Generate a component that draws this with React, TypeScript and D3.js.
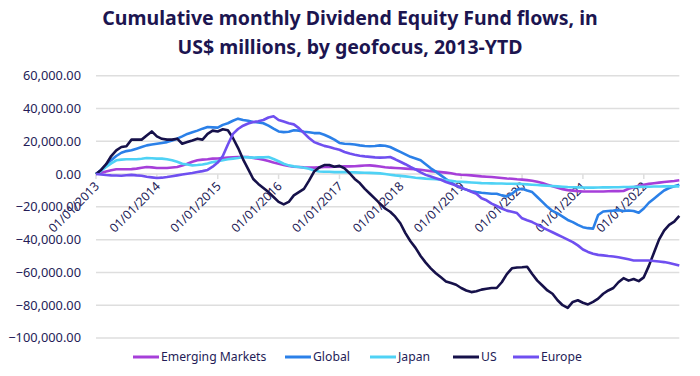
import React from "react";
import * as d3 from "d3";

const seriesNames = ["Emerging Markets", "Global", "Japan", "US", "Europe"];
const seriesColors = ["#a63fd9", "#2b80e8", "#4fd2f5", "#16114a", "#6f4ff0"];

const yearLabels = ["01/01/2013", "01/01/2014", "01/01/2015", "01/01/2016", "01/01/2017", "01/01/2018", "01/01/2019", "01/01/2020", "01/01/2021", "01/01/2022"];
const yTicks = [60000, 40000, 20000, 0, -20000, -40000, -60000, -80000, -100000];

// values in US$ thousands of millions (k), monthly Jan 2013 - Aug 2022
const emerging = [0,0.8,1.6,2.3,2.9,2.9,2.9,3,3.3,3.8,4.3,4.1,3.7,3.7,3.7,4,4.3,5.2,6.3,7.5,8.4,8.8,9,9.4,9.5,9.8,10,10.2,10.4,10.4,10.4,9.8,9.4,8.8,7.9,7,6.3,5.6,4.9,4.5,4.3,4.1,4,3.9,4.1,4.3,4.4,4.5,4.6,4.7,4.7,4.8,5,5.2,5.3,5,4.6,4.2,3.9,3.7,3.5,3.3,3.1,2.9,2.6,2.2,1.8,1.5,1.2,0.9,0.5,-0.1,-0.4,-0.6,-0.8,-1.1,-1.4,-1.6,-1.8,-2.1,-2.4,-2.7,-2.9,-3.2,-3.4,-3.7,-4.1,-4.7,-5.5,-6.5,-7.5,-8.3,-9.2,-9.8,-10.1,-10.4,-10.6,-10.6,-10.6,-10.6,-10.6,-10.5,-10.4,-10.4,-10.3,-9,-8,-7.2,-6.6,-6,-5.6,-5.2,-4.8,-4.5,-4.2,-3.8];
const global = [0,2.5,5.5,8.5,11,13,14,14.5,15.5,16.5,17.5,18,18.5,19,19.5,20.5,21.6,23,24.5,25.5,26.5,27.7,28.7,28.5,28.3,30,31,32.5,33.8,33,32.5,31.8,31.5,31,29.5,27.7,26,25.6,25.8,26.7,26.5,25.8,25.5,25,25,24,22.6,21,19,18.5,18.3,18,17.5,17.1,17,17.1,17.5,17.3,16.5,15,13.5,12,10.5,9.5,8.4,6,3.5,1.5,-0.8,-3,-5,-7,-8.5,-9.5,-10.5,-11,-11.4,-11.7,-12,-12,-13,-13.6,-12,-9.5,-8.9,-10,-11,-14,-17,-20,-22.5,-24,-26,-28,-29.3,-31,-32.4,-33,-33.3,-25,-22.8,-22.5,-22.3,-22,-22.5,-22.2,-22.5,-23.6,-21,-17.5,-15,-12.5,-10,-8.5,-7.5,-6.5];
const japan = [0,2,4.3,6.5,8.4,8.8,9,9,9,9.3,9.8,9.6,9.4,9.4,9,8.4,7.5,6.3,5.8,5.3,5.5,5.8,6.5,7.3,7.8,8.4,9,9.4,9.8,10.4,10.2,10,10.2,10.2,10.4,9.2,7.8,6.3,5.3,4.7,4.3,3.9,3.2,2.2,1.6,1.4,1.4,1.2,1.2,1.2,1.1,1,0.9,0.8,0.7,0.6,0.4,0,-0.4,-0.8,-1.1,-1.4,-1.8,-2.2,-2.5,-2.8,-3,-3.2,-3.5,-3.8,-4.1,-4.5,-4.7,-4.9,-5.1,-5.3,-5.5,-5.6,-5.7,-5.8,-5.8,-5.9,-5.9,-6,-6.1,-6.3,-6.5,-6.7,-6.9,-7.1,-7.3,-7.5,-7.7,-7.9,-8,-8.1,-8.2,-8.3,-8.3,-8.2,-8.1,-8.1,-8,-8,-7.9,-7.9,-7.8,-7.8,-7.7,-7.7,-7.6,-7.6,-7.5,-7.5,-7.5,-7.5];
const us = [0,2.5,6,11,14.5,16.5,17,21,21,21,23.5,26,23,21.5,21,21,21.6,18.5,19.5,20.5,21.6,21,24.5,26.5,26,27.3,26.7,22,16,9,3,-3,-6,-8.5,-11,-14,-17,-18.5,-17,-13,-11,-9,-4,1.5,4,5.5,5.5,4.5,5,3.5,0.5,-3,-5.5,-9,-12,-15,-18,-21,-23,-26,-30,-36,-41,-45,-50,-54,-57.5,-60.5,-63,-65.5,-66.5,-67.5,-69.5,-71,-72,-71.5,-70.5,-70,-69.5,-69.5,-66,-61,-57.5,-57,-56.8,-56.5,-61,-65,-68,-71,-73,-77,-80,-81.6,-78,-77,-78.5,-79.5,-78,-76,-73,-71,-69.5,-66,-63.5,-65,-64,-65.3,-63,-56,-48,-40,-34.5,-31,-29,-25.5];
const europe = [0,-0.3,-0.6,-0.8,-0.9,-1,-0.7,-0.5,-0.8,-1,-1.6,-2,-2.4,-2.2,-1.8,-1.3,-0.8,-0.3,0.2,0.6,1.2,1.8,2.5,4.5,7,11,18,24.5,27.5,29.5,30.8,31.8,32.2,33,34.5,35.3,33,32,31,30.3,28,25,22,19.5,18.3,17.2,16.5,15.6,14.8,13.5,12.5,11.8,11.2,10.8,10.5,10.2,10,10.1,10.4,9,7.5,6,4.3,2.8,1,-0.5,-1.5,-2.5,-3.5,-4.8,-5.9,-7,-8.3,-9.5,-10.8,-12,-14.8,-16,-18,-19.5,-21,-22.3,-23,-23.8,-27,-28.2,-29.3,-30.8,-32.5,-34,-35.5,-37,-38.5,-40,-41.5,-43.5,-46,-47.5,-48.6,-49.3,-49.6,-50,-50.3,-50.7,-51.3,-52,-52.7,-52.7,-52.7,-52.7,-53,-53.3,-53.7,-54.3,-55,-55.8];

const allSeries = [emerging, global, japan, us, europe];

const W = 700;
const H = 376;
const left = 96;
const right = 679.3;
const top = 75.7;
const bottom = 338;

const textColor = "#241c57";
const titleColor = "#1c1550";
const font = "'Noto Sans', sans-serif";

export default function App() {
  const n = us.length;
  const x = d3.scaleLinear().domain([0, n - 1]).range([left, right]);
  const y = d3.scaleLinear().domain([-100000, 60000]).range([bottom, top]);
  const line = d3
    .line<number>()
    .x((_, i) => x(i))
    .y((v) => y(v * 1000));
  const fmt = d3.format(",.2f");
  const legendX = [133, 285, 370, 453, 513];

  return (
    <svg width={W} height={H} style={{ position: "absolute", left: 0, top: 0, background: "#fff" }}>
      <text x={350} y={25} textAnchor="middle" fontFamily={font} fontWeight={700} fontSize={19.5} fill={titleColor}>
        Cumulative monthly Dividend Equity Fund flows, in
      </text>
      <text x={350} y={54} textAnchor="middle" fontFamily={font} fontWeight={700} fontSize={19.5} fill={titleColor}>
        US$ millions, by geofocus, 2013-YTD
      </text>
      {yTicks.map((t) => (
        <g key={t}>
          <line x1={left} x2={right} y1={y(t)} y2={y(t)} stroke="#dedede" strokeWidth={1.5} />
          <text x={81} y={y(t)} dy="0.35em" textAnchor="end" fontFamily={font} fontSize={12.8} fill={textColor}>
            {fmt(t).replace("-", "\u2212")}
          </text>
        </g>
      ))}
      {yearLabels.map((lab, i) => {
        const tx = x(i * 12);
        return (
          <g key={lab}>
            <line x1={tx} x2={tx} y1={y(0)} y2={y(0) + 5} stroke="#dedede" strokeWidth={1.5} />
            <text
              transform={`translate(${tx + 1},${y(0) + 10}) rotate(-45)`}
              textAnchor="end"
              dy="0.35em"
              fontFamily={font}
              fontSize={12.3}
              fill={textColor}
            >
              {lab}
            </text>
          </g>
        );
      })}
      {allSeries.map((s, i) => (
        <path key={seriesNames[i]} d={line(s) || ""} fill="none" stroke={seriesColors[i]} strokeWidth={2.6} strokeLinejoin="round" />
      ))}
      {seriesNames.map((nm, i) => (
        <g key={nm}>
          <line x1={legendX[i]} x2={legendX[i] + 26} y1={357} y2={357} stroke={seriesColors[i]} strokeWidth={3} />
          <text x={legendX[i] + 28} y={357} dy="0.35em" fontFamily={font} fontSize={12.2} fill={textColor}>
            {nm}
          </text>
        </g>
      ))}
    </svg>
  );
}
